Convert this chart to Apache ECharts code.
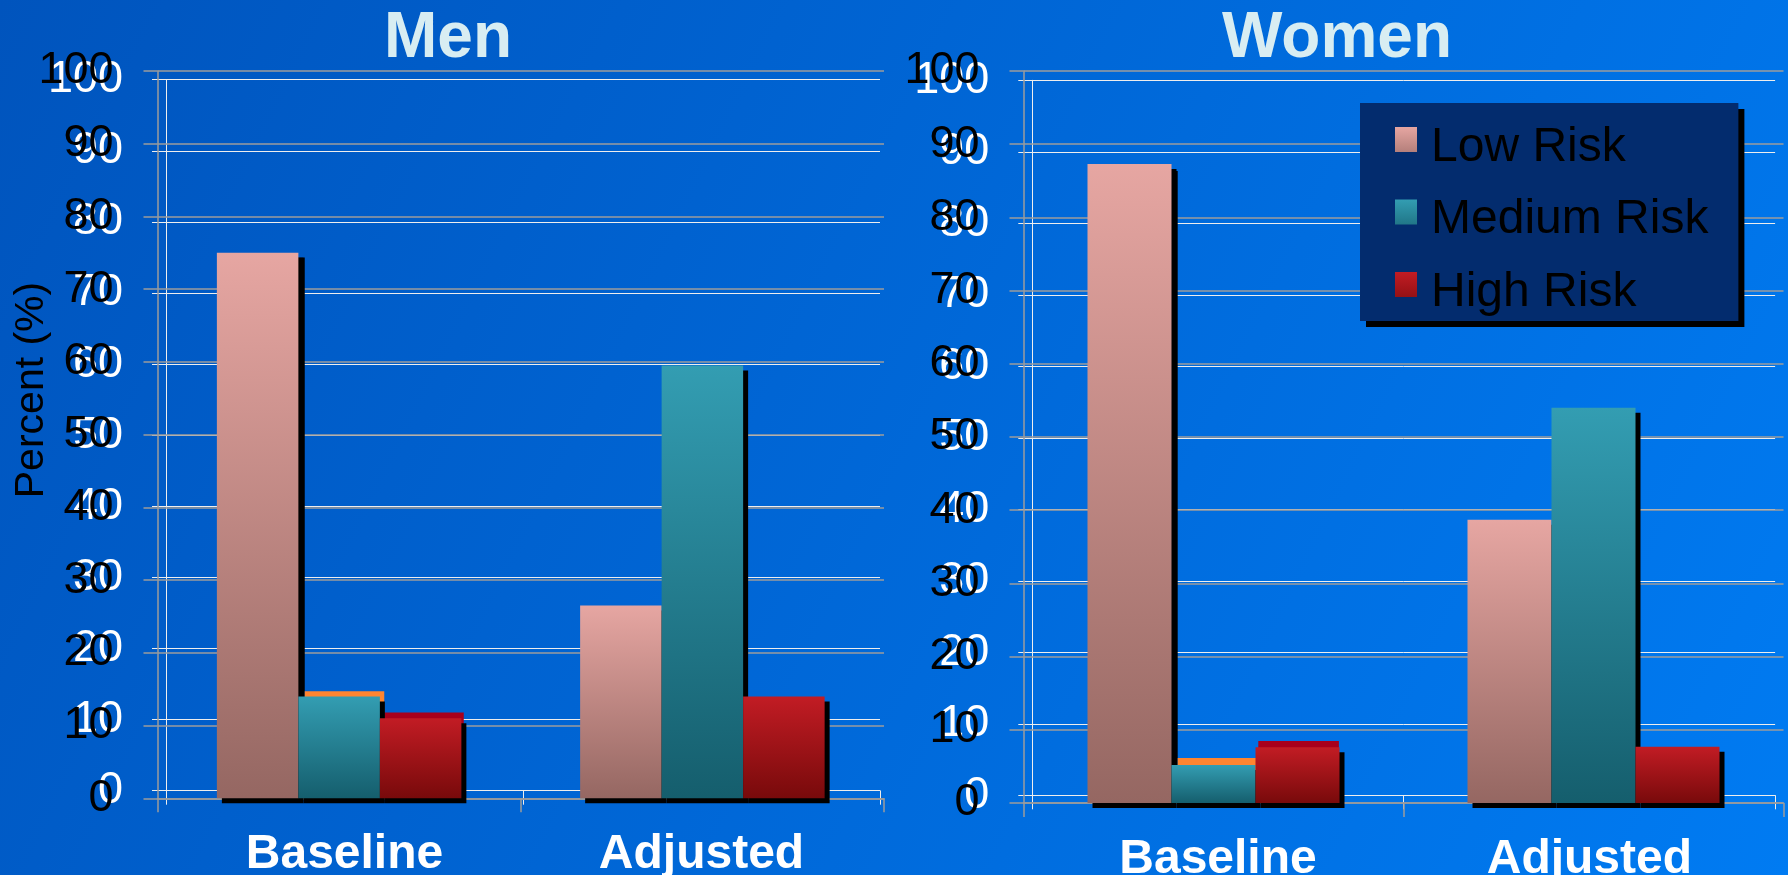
<!DOCTYPE html>
<html>
<head>
<meta charset="utf-8">
<script src="https://cdn.jsdelivr.net/npm/echarts@6/dist/echarts.min.js"></script>
<style>
  html, body { margin: 0; padding: 0; width: 1788px; height: 875px; overflow: hidden; }
  #chart { width: 1788px; height: 875px; }
</style>
</head>
<body>
<div id="chart"></div>
<script>
// Risk distribution, percent of participants
const categories = ['Baseline', 'Adjusted'];
const seriesNames = ['Low Risk', 'Medium Risk', 'High Risk'];
const panelTitles = ['Men', 'Women'];
const axisName = 'Percent (%)';
const yMin = 0, yMax = 100, yStep = 10;

const menLow = [75, 26.5];
const menMedium = [14, 59.5];
const menHigh = [11, 14];

const womenLow = [87.3, 38.7];
const womenMedium = [5.2, 54];
const womenHigh = [7.6, 7.7];

const FONT = '"Liberation Sans", Arial, sans-serif';

function grad(top, bottom) {
  return new echarts.graphic.LinearGradient(0, 0, 0, 1, [
    { offset: 0, color: top },
    { offset: 1, color: bottom }
  ]);
}

const frontColors = [
  grad('#e6a6a2', '#956762'),
  grad('#339db2', '#155e6d'),
  grad('#c21c24', '#780a0b')
];
// the offset rim layer behind the bars
const rimColors = ['#000000', '#ff8530', '#a8001c'];

// Two stacked layers per panel: a rear (white grid) and a front (grey grid)
const grids = [
  { left: 166, top: 79.7, width: 714, height: 711 },       // men rear
  { left: 157.5, top: 71, width: 726.5, height: 727.3 },   // men front
  { left: 1032.3, top: 80.3, width: 742.8, height: 715 },  // women rear
  { left: 1023.5, top: 71, width: 760, height: 732 }       // women front
].map(g => Object.assign({ containLabel: false, outerBoundsMode: 'none' }, g));

function xAxis(idx, front) {
  const c = front ? '#9c9c9c' : '#eeeeee';
  return {
    type: 'category', gridIndex: idx, data: categories, boundaryGap: true,
    axisLine: { show: true, lineStyle: { color: c, width: front ? 1.5 : 1 } },
    axisTick: { show: true, length: 14, lineStyle: { color: c, width: front ? 1.5 : 1 } },
    axisLabel: front ? { show: false } : {
      show: true, margin: 40, color: '#ffffff', fontFamily: FONT,
      fontSize: 48, fontWeight: 'bold', lineHeight: 48
    },
    splitLine: { show: false },
    z: front ? 1 : 0
  };
}

function yAxis(idx, front) {
  const c = front ? '#9c9c9c' : '#eeeeee';
  return {
    type: 'value', gridIndex: idx, min: yMin, max: yMax, interval: yStep,
    axisLine: { show: true, lineStyle: { color: c, width: front ? 1.5 : 1 } },
    axisTick: { show: true, length: 14, lineStyle: { color: c, width: front ? 1.5 : 1 } },
    axisLabel: {
      show: true, margin: front ? 44 : 43, color: front ? '#000000' : '#ffffff',
      fontFamily: FONT, fontSize: 45
    },
    splitLine: { show: true, lineStyle: { color: c, width: front ? 1.5 : 1 } },
    z: front ? 1 : 0
  };
}

const barWidths = [79.5, 81.5, 80.6, 84];

function firstOnly(arr) {
  return arr.map((v, i) => (i === 0 ? v : '-'));
}

function rimSeries(axisIdx, values) {
  return values.map((vals, k) => ({
    type: 'bar', xAxisIndex: axisIdx, yAxisIndex: axisIdx,
    data: firstOnly(vals), barWidth: barWidths[axisIdx], barGap: '0%',
    itemStyle: { color: rimColors[k] },
    clip: false, silent: true, z: 2
  }));
}

function frontSeries(axisIdx, values) {
  return values.map((vals, k) => ({
    type: 'bar', name: seriesNames[k], xAxisIndex: axisIdx, yAxisIndex: axisIdx,
    data: vals, barWidth: barWidths[axisIdx], barGap: '0%',
    itemStyle: {
      color: frontColors[k], shadowColor: '#000000',
      shadowBlur: 0, shadowOffsetX: 5, shadowOffsetY: 5
    },
    emphasis: { disabled: true },
    clip: false, z: 3
  }));
}

const menValues = [menLow, menMedium, menHigh];
const womenValues = [womenLow, womenMedium, womenHigh];

const titleStyle = { color: '#d8edf2', fontFamily: FONT, fontSize: 64, fontWeight: 'bold', lineHeight: 64 };

// legend swatch: square in the upper part of a taller icon box
const swatchIcon = 'path://M0,0L22,0L22,25L0,25Z M0,41';

const option = {
  animation: false,
  backgroundColor: new echarts.graphic.LinearGradient(0, 0, 1, 1, [
    { offset: 0, color: '#0054bd' },
    { offset: 1, color: '#007bf2' }
  ]),
  title: [
    { text: panelTitles[0], left: 448, top: 7, padding: 0, textAlign: 'center', textStyle: titleStyle },
    { text: panelTitles[1], left: 1337, top: 7, padding: 0, textAlign: 'center', textStyle: titleStyle }
  ],
  legend: {
    data: seriesNames, orient: 'vertical', left: 1360, top: 103,
    icon: swatchIcon, itemWidth: 22, itemHeight: 41, itemGap: 22.5,
    padding: [19.5, 30, 3.5, 35],
    backgroundColor: '#032c6e',
    shadowColor: '#000000', shadowBlur: 0, shadowOffsetX: 6, shadowOffsetY: 6,
    selectedMode: false,
    itemStyle: { shadowColor: 'transparent', shadowBlur: 0, shadowOffsetX: 0, shadowOffsetY: 0 },
    textStyle: { color: '#000000', fontFamily: FONT, fontSize: 48, lineHeight: 50, padding: [0, 0, 0, 9] }
  },
  graphic: [{
    type: 'text', x: 32, y: 390, rotation: Math.PI / 2,
    style: { text: axisName, font: '41px ' + FONT, fill: '#000000', align: 'center', verticalAlign: 'middle' }
  }],
  grid: grids,
  xAxis: [xAxis(0, false), xAxis(1, true), xAxis(2, false), xAxis(3, true)],
  yAxis: [yAxis(0, false), yAxis(1, true), yAxis(2, false), yAxis(3, true)],
  series: [].concat(
    rimSeries(0, menValues),
    rimSeries(2, womenValues),
    frontSeries(1, menValues),
    frontSeries(3, womenValues)
  )
};

const chart = echarts.init(document.getElementById('chart'), null, { renderer: 'canvas' });
chart.setOption(option);
</script>
</body>
</html>
